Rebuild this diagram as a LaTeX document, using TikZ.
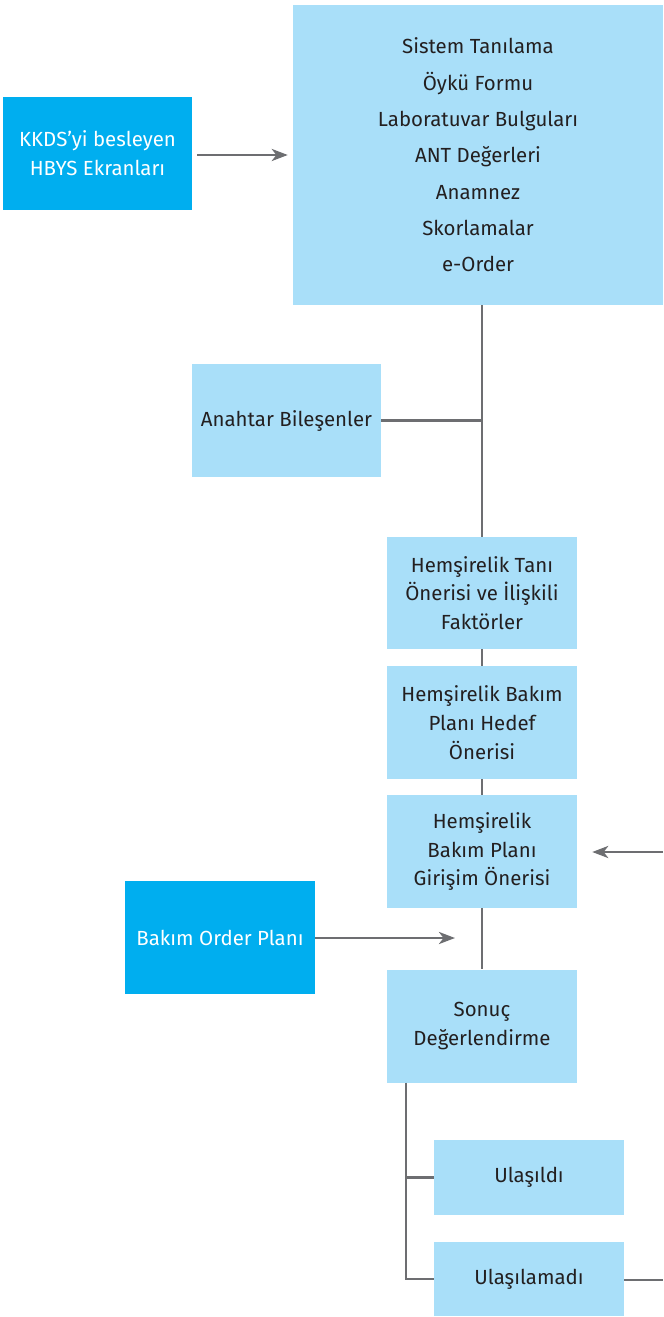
\documentclass[tikz,border=0pt]{standalone}
\usepackage{fontspec}
\setmainfont{Fira Sans}
\usetikzlibrary{arrows.meta,positioning}
\definecolor{boxlight}{HTML}{A9DFF9}
\definecolor{boxdark}{HTML}{00AEEF}
\definecolor{linegray}{HTML}{6D6E71}
\definecolor{txt}{HTML}{231F20}
\tikzset{
  x=1bp, y=-1bp,
  lightbox/.style={fill=boxlight, draw=none, text=txt, align=center, inner sep=0pt,
    font=\fontsize{20.5}{28.8}\selectfont},
  darkbox/.style={fill=boxdark, draw=none, text=white, align=center, inner sep=0pt,
    font=\fontsize{20.5}{28.8}\selectfont},
  wire/.style={draw=linegray, line width=2.8bp},
  arrowwire/.style={wire, -{Stealth[length=16bp,width=12bp,inset=4.5bp]}},
}
\begin{document}
\begin{tikzpicture}
\useasboundingbox (0,0) rectangle (663,1317);

% input screens and core record
\node[darkbox, minimum width=189bp, minimum height=113bp] (kkds) at (97.5,153.5)
  {KKDS’yi besleyen\\HBYS Ekranları};
\node[lightbox, minimum width=370bp, minimum height=300bp,
  font=\fontsize{20.5}{36.5}\selectfont] (top) at (478,155)
  {Sistem Tanılama\\Öykü Formu\\Laboratuvar Bulguları\\ANT Değerleri\\Anamnez\\Skorlamalar\\e-Order};

\node[lightbox, minimum width=189bp, minimum height=113bp] (anahtar) at (286.5,420.5)
  {Anahtar Bileşenler};

% nursing process chain
\node[lightbox, minimum width=190bp, minimum height=112bp] (tani) at (482,593)
  {Hemşirelik Tanı\\Önerisi ve İlişkili\\Faktörler};
\node[lightbox, minimum width=190bp, minimum height=113bp] (hedef) at (482,722.5)
  {Hemşirelik Bakım\\Planı Hedef\\Önerisi};
\node[lightbox, minimum width=190bp, minimum height=113bp] (girisim) at (482,851.5)
  {Hemşirelik\\Bakım Planı\\Girişim Önerisi};
\node[darkbox, minimum width=190bp, minimum height=113bp] (order) at (220,937.5)
  {Bakım Order Planı};
\node[lightbox, minimum width=190bp, minimum height=113bp] (sonuc) at (482,1026)
  {Sonuç\\Değerlendirme};

% outcomes
\node[lightbox, minimum width=190bp, minimum height=75bp] (ulasildi) at (529,1177.5)
  {Ulaşıldı};
\node[lightbox, minimum width=190bp, minimum height=74bp] (ulasilamadi) at (529,1279)
  {Ulaşılamadı};

% free ends of connectors
\coordinate (loopin) at (663,852);
\coordinate (orderend) at (455,938);
\coordinate (loopout) at (663,1280);
\coordinate (branch) at (406,1082.5);

% connectors
\draw[arrowwire, shorten <=5bp, shorten >=5bp] (kkds.east |- 0,155) -- (top.west |- 0,155);
\draw[wire] (tani.north |- top.south) -- (tani.north);
\draw[wire] (anahtar.east) -- (anahtar.east -| tani.north);
\draw[wire] (tani.south) -- (hedef.north);
\draw[wire] (hedef.south) -- (girisim.north);
\draw[wire] (girisim.south) -- (girisim.south |- sonuc.north);
\draw[arrowwire, shorten >=15bp] (loopin) -- (girisim.east |- loopin);
\draw[arrowwire] (order.east |- orderend) -- (orderend);
\draw[wire] (branch) |- (ulasilamadi.west);
\draw[wire] (ulasildi.west) -- (ulasildi.west -| branch);
\draw[wire] (ulasilamadi.east |- loopout) -- (loopout);
\end{tikzpicture}
\end{document}
